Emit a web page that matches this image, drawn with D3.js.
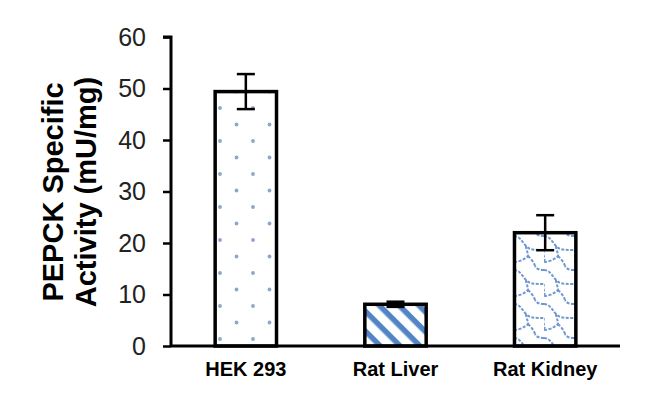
<html>
<meta charset="utf-8" />
<script src="https://d3js.org/d3.v7.min.js"></script>
<style>
  body { margin: 0; background: #fff; }
  text { font-family: "Liberation Sans", Arial, sans-serif; }
</style>
<body>
<svg width="650" height="399" id="chart"></svg>
<script>
  const categories = ["HEK 293", "Rat Liver", "Rat Kidney"];
  const values = [49.4, 8.1, 22.0];
  const errors = [3.4, 0.5, 3.4];
  const yTicks = [0, 10, 20, 30, 40, 50, 60];
  const patterns = ["dots", "stripes", "waves"];

  const svg = d3.select("#chart");
  const plotLeft = 171, plotRight = 620, plotTop = 37, plotBottom = 346;

  const x = d3.scaleBand()
    .domain(categories)
    .range([plotLeft, plotRight])
    .paddingInner(0.59)
    .paddingOuter(0.295);
  const y = d3.scaleLinear().domain([0, 60]).range([plotBottom, plotTop]);

  // fill patterns
  const defs = svg.append("defs");
  const dots = defs.append("pattern")
    .attr("id", "dots").attr("patternUnits", "userSpaceOnUse")
    .attr("width", 33).attr("height", 33).attr("x", 212).attr("y", 100);
  dots.append("circle").attr("cx", 8).attr("cy", 8).attr("r", 1.9).attr("fill", "#8ea5cc");
  dots.append("circle").attr("cx", 24.5).attr("cy", 24.5).attr("r", 1.9).attr("fill", "#8ea5cc");

  const stripes = defs.append("pattern")
    .attr("id", "stripes").attr("patternUnits", "userSpaceOnUse")
    .attr("width", 14).attr("height", 14)
    .attr("patternTransform", "rotate(45)");
  stripes.append("rect").attr("width", 14).attr("height", 14).attr("fill", "#fff");
  stripes.append("rect").attr("y", 1).attr("width", 14).attr("height", 5.5).attr("fill", "#5285c6");

  const waves = defs.append("pattern")
    .attr("id", "waves").attr("patternUnits", "userSpaceOnUse")
    .attr("width", 30).attr("height", 34).attr("x", 514).attr("y", 232);
  waves.append("path")
    .attr("d", "M0,4 C6,4 8,10 12,14 S20,18 30,18 M30,4 C24,4 22,2 21,0 M21,34 C20,30 16,26 14,24 M12,14 C12,18 14,20 14,24 C10,28 4,30 0,30 M0,18 C-2,24 2,26 0,30")
    .attr("fill", "none")
    .attr("stroke", "#7198cf")
    .attr("stroke-width", 2)
    .attr("stroke-dasharray", "3,1.5");

  // bars
  svg.selectAll("rect.bar")
    .data(categories)
    .enter()
    .append("rect")
    .attr("class", "bar")
    .attr("x", d => x(d))
    .attr("y", (d, i) => y(values[i]))
    .attr("width", x.bandwidth())
    .attr("height", (d, i) => y(0) - y(values[i]))
    .attr("fill", (d, i) => `url(#${patterns[i]})`)
    .attr("stroke", "#000")
    .attr("stroke-width", 3.5);

  // error bars
  const err = svg.append("g").attr("stroke", "#000").attr("stroke-width", 2.5);
  categories.forEach((c, i) => {
    const cx = x(c) + x.bandwidth() / 2;
    const hi = y(values[i] + errors[i]), lo = y(values[i] - errors[i]);
    err.append("line").attr("x1", cx).attr("x2", cx).attr("y1", hi).attr("y2", lo);
    err.append("line").attr("x1", cx - 9).attr("x2", cx + 9).attr("y1", hi).attr("y2", hi);
    err.append("line").attr("x1", cx - 9).attr("x2", cx + 9).attr("y1", lo).attr("y2", lo);
  });

  // y axis
  const yAxis = svg.append("g")
    .attr("transform", `translate(${plotLeft},0)`)
    .call(d3.axisLeft(y).tickValues(yTicks).tickSize(8).tickPadding(17));
  yAxis.select(".domain").attr("stroke-width", 3).attr("d", `M-8,${plotTop}H0V${plotBottom}`);
  yAxis.selectAll(".tick line").attr("stroke-width", 2.5);
  yAxis.selectAll(".tick text")
    .attr("font-size", 25).attr("fill", "#222")
    .attr("font-family", "Liberation Sans, Arial, sans-serif");

  // x axis
  const xAxis = svg.append("g")
    .attr("transform", `translate(0,${plotBottom})`)
    .call(d3.axisBottom(x).tickSize(0).tickPadding(16));
  xAxis.select(".domain").attr("stroke-width", 3).attr("d", `M${plotLeft},0H${plotRight}`);
  xAxis.selectAll(".tick text")
    .attr("font-size", 20).attr("font-weight", "bold").attr("fill", "#000")
    .attr("font-family", "Liberation Sans, Arial, sans-serif");

  // y title
  const title = svg.append("text")
    .attr("transform", "translate(0,192) rotate(-90)")
    .attr("text-anchor", "middle")
    .attr("font-size", 29)
    .attr("font-weight", "bold");
  title.append("tspan").attr("x", 0).attr("y", 63).text("PEPCK Specific");
  title.append("tspan").attr("x", 0).attr("y", 96).text("Activity (mU/mg)");
</script>
</body>
</html>
